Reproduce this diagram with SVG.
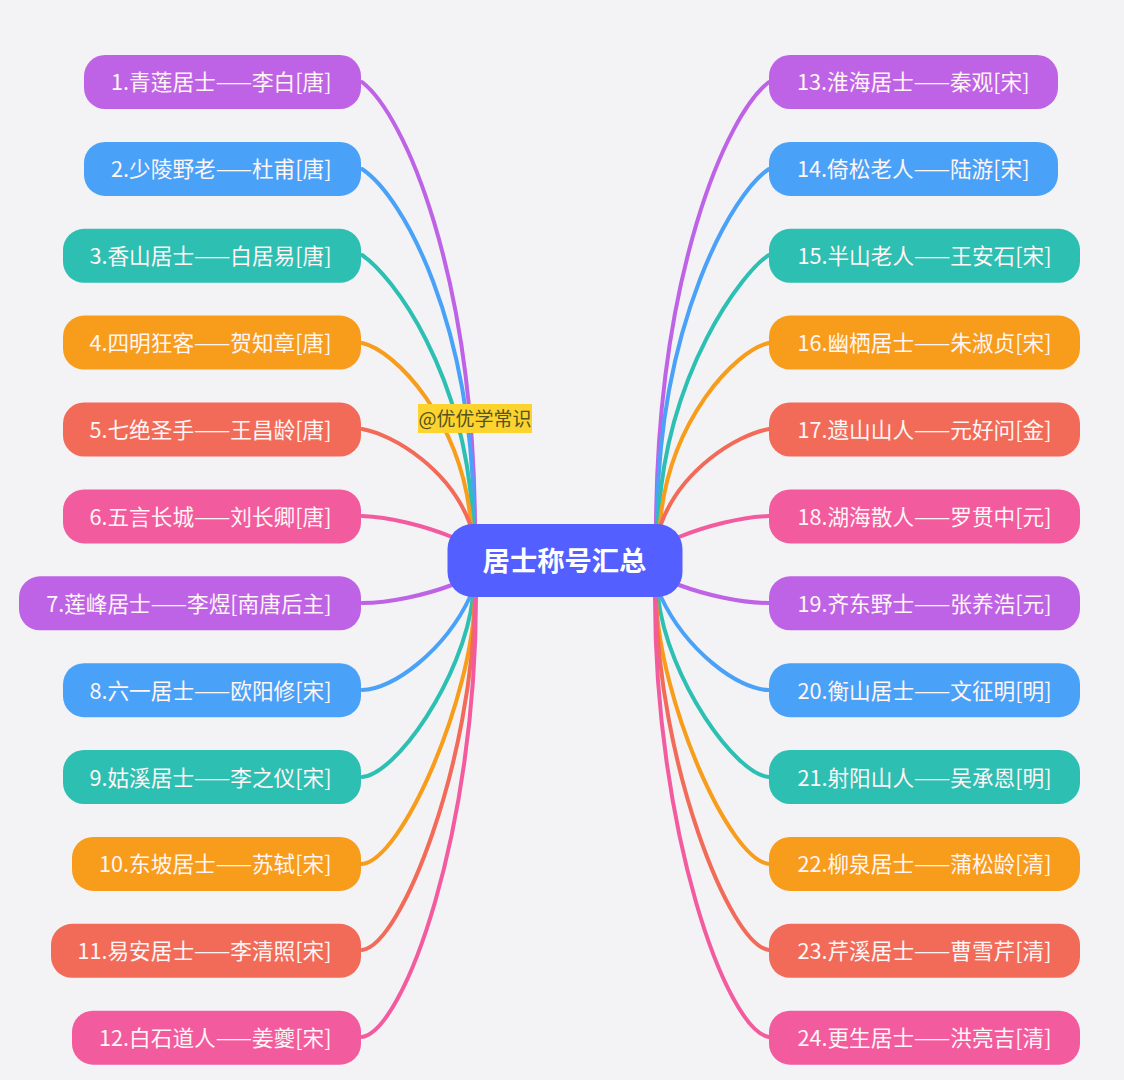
<svg xmlns="http://www.w3.org/2000/svg" width="1124" height="1080" viewBox="0 0 1124 1080">
<style>
text{font-family:"Noto Sans CJK SC","Noto Sans",sans-serif}
.t{font-size:21.65px;fill:#fff5f5;text-anchor:end}
.c{fill:none;stroke-width:4;stroke-linecap:round}
.n{rx:21px}
.purple{fill:#bf63e6}.blue{fill:#4aa2f8}.teal{fill:#2ebfb3}.orange{fill:#f89c1c}.red{fill:#f26b59}.pink{fill:#f35b9f}
.sp{stroke:#bf63e6}.sb{stroke:#4aa2f8}.st{stroke:#2ebfb3}.so{stroke:#f89c1c}.sr{stroke:#f26b59}.sk{stroke:#f35b9f}
</style>
<rect width="1124" height="1080" fill="#f3f3f6"/>
<g id="connectors">
<path class="c sp" d="M362 82C405 115 473 274 475 524"/>
<path class="c sb" d="M362 169C403 196 473 323 474 524"/>
<path class="c st" d="M362 255C392 275 466 372 473 524"/>
<path class="c so" d="M362 343C395 350 462 420 471 524"/>
<path class="c sr" d="M362 429C395 435 450 470 470 524"/>
<path class="c sk" d="M362 516C390 517 425 526 452 537"/>
<path class="c sp" d="M362 603C390 603 425 595 452 585"/>
<path class="c sb" d="M362 690C393 690 445 650 470 597"/>
<path class="c st" d="M362 777C395 775 463 680 473 597"/>
<path class="c so" d="M362 864C402 860 472 700 475 597"/>
<path class="c sr" d="M362 950C402 945 473 760 475 597"/>
<path class="c sk" d="M362 1037C405 1030 476 830 476 597"/>
<path class="c sp" d="M769 82C726 115 658 274 656 524"/>
<path class="c sb" d="M769 169C733 192 658 323 657 524"/>
<path class="c st" d="M769 255C744 270 665 372 658 524"/>
<path class="c so" d="M769 343C736 350 669 420 660 524"/>
<path class="c sr" d="M769 429C736 435 681 470 661 524"/>
<path class="c sk" d="M769 516C741 517 706 526 679 537"/>
<path class="c sp" d="M769 603C741 603 706 595 679 585"/>
<path class="c sb" d="M769 690C738 690 686 650 661 597"/>
<path class="c st" d="M769 777C736 775 668 680 658 597"/>
<path class="c so" d="M769 864C729 860 659 700 656 597"/>
<path class="c sr" d="M769 950C729 945 658 760 656 597"/>
<path class="c sk" d="M769 1037C726 1030 655 830 655 597"/>
</g>
<g id="center"><rect x="447.500" y="524" width="235" height="73" rx="25" fill="#5360ff"/><text x="564.500" y="571" font-size="27.300" font-weight="700" fill="#fff" text-anchor="middle">居士称号汇总</text></g>
<g id="n1"><rect class="purple n" x="84" y="55" width="277" height="54"/><text class="t" x="331.500" y="90">1.青莲居士——李白[唐]</text></g>
<g id="n2"><rect class="blue n" x="84" y="141.900" width="277" height="54"/><text class="t" x="331.500" y="177">2.少陵野老——杜甫[唐]</text></g>
<g id="n3"><rect class="teal n" x="63" y="228.800" width="298" height="54"/><text class="t" x="331.500" y="264">3.香山居士——白居易[唐]</text></g>
<g id="n4"><rect class="orange n" x="63" y="315.600" width="298" height="54"/><text class="t" x="331.500" y="351">4.四明狂客——贺知章[唐]</text></g>
<g id="n5"><rect class="red n" x="63" y="402.500" width="298" height="54"/><text class="t" x="331.500" y="438">5.七绝圣手——王昌龄[唐]</text></g>
<g id="n6"><rect class="pink n" x="63" y="489.400" width="298" height="54"/><text class="t" x="331.500" y="525">6.五言长城——刘长卿[唐]</text></g>
<g id="n7"><rect class="purple n" x="19" y="576.300" width="342" height="54"/><text class="t" x="331.500" y="611.500">7.莲峰居士——李煜[南唐后主]</text></g>
<g id="n8"><rect class="blue n" x="63" y="663.200" width="298" height="54"/><text class="t" x="331.500" y="698.500">8.六一居士——欧阳修[宋]</text></g>
<g id="n9"><rect class="teal n" x="63" y="750" width="298" height="54"/><text class="t" x="331.500" y="785.500">9.姑溪居士——李之仪[宋]</text></g>
<g id="n10"><rect class="orange n" x="72" y="836.900" width="289" height="54"/><text class="t" x="331.500" y="872">10.东坡居士——苏轼[宋]</text></g>
<g id="n11"><rect class="red n" x="51" y="923.800" width="310" height="54"/><text class="t" x="331.500" y="959">11.易安居士——李清照[宋]</text></g>
<g id="n12"><rect class="pink n" x="72" y="1010.700" width="289" height="54"/><text class="t" x="331.500" y="1046">12.白石道人——姜夔[宋]</text></g>
<g id="n13"><rect class="purple n" x="769" y="55" width="289" height="54"/><text class="t" x="1029.500" y="90">13.淮海居士——秦观[宋]</text></g>
<g id="n14"><rect class="blue n" x="769" y="141.900" width="289" height="54"/><text class="t" x="1029.500" y="177">14.倚松老人——陆游[宋]</text></g>
<g id="n15"><rect class="teal n" x="769" y="228.800" width="311" height="54"/><text class="t" x="1051.500" y="264">15.半山老人——王安石[宋]</text></g>
<g id="n16"><rect class="orange n" x="769" y="315.600" width="311" height="54"/><text class="t" x="1051.500" y="351">16.幽栖居士——朱淑贞[宋]</text></g>
<g id="n17"><rect class="red n" x="769" y="402.500" width="311" height="54"/><text class="t" x="1051.500" y="438">17.遗山山人——元好问[金]</text></g>
<g id="n18"><rect class="pink n" x="769" y="489.400" width="311" height="54"/><text class="t" x="1051.500" y="525">18.湖海散人——罗贯中[元]</text></g>
<g id="n19"><rect class="purple n" x="769" y="576.300" width="311" height="54"/><text class="t" x="1051.500" y="611.500">19.齐东野士——张养浩[元]</text></g>
<g id="n20"><rect class="blue n" x="769" y="663.200" width="311" height="54"/><text class="t" x="1051.500" y="698.500">20.衡山居士——文征明[明]</text></g>
<g id="n21"><rect class="teal n" x="769" y="750" width="311" height="54"/><text class="t" x="1051.500" y="785.500">21.射阳山人——吴承恩[明]</text></g>
<g id="n22"><rect class="orange n" x="769" y="836.900" width="311" height="54"/><text class="t" x="1051.500" y="872">22.柳泉居士——蒲松龄[清]</text></g>
<g id="n23"><rect class="red n" x="769" y="923.800" width="311" height="54"/><text class="t" x="1051.500" y="959">23.芹溪居士——曹雪芹[清]</text></g>
<g id="n24"><rect class="pink n" x="769" y="1010.700" width="311" height="54"/><text class="t" x="1051.500" y="1046">24.更生居士——洪亮吉[清]</text></g>
<g id="watermark"><rect x="418" y="404" width="114" height="29" fill="#fdd42e"/><text x="475" y="425.500" font-size="19" fill="#55521f" text-anchor="middle">@优优学常识</text></g>
</svg>
